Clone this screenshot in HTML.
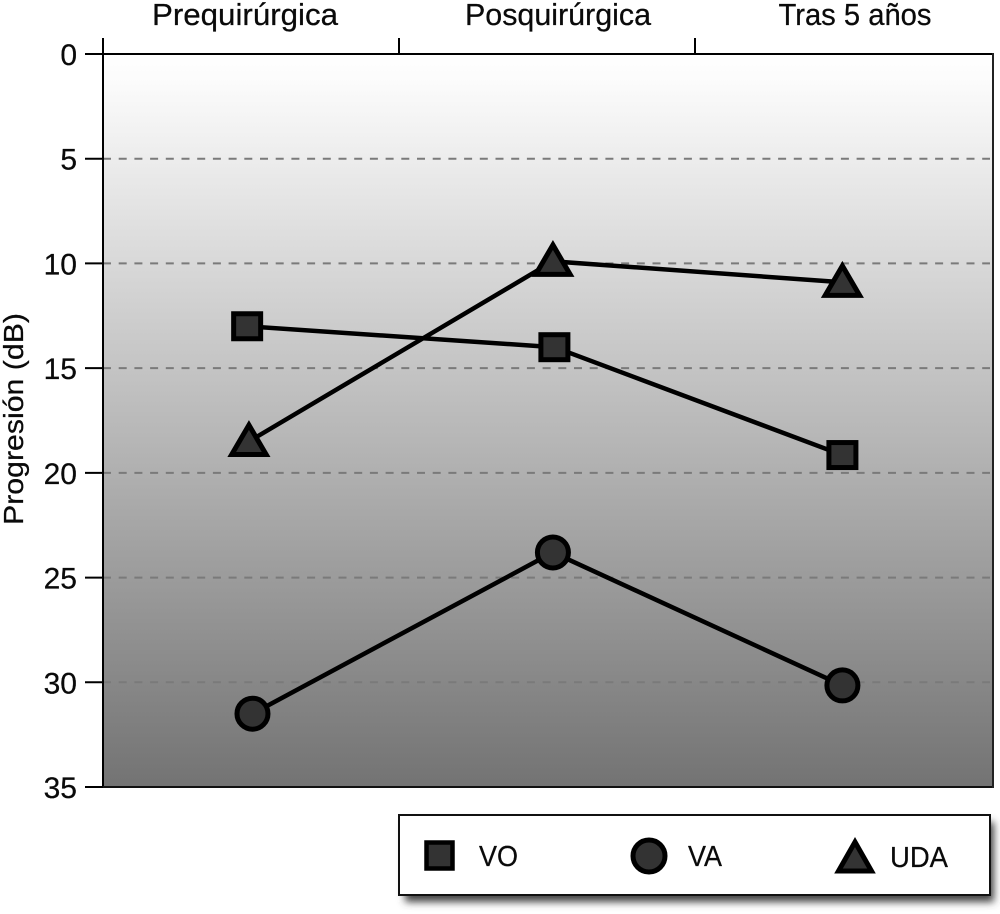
<!DOCTYPE html>
<html lang="es">
<head>
<meta charset="utf-8">
<title>Progresión (dB)</title>
<style>
html,body{margin:0;padding:0;background:#fff;width:1000px;height:914px;overflow:hidden}
svg{display:block}
text{font-family:"Liberation Sans",sans-serif;fill:#0a0a0a;stroke:#0a0a0a;stroke-width:0.25px}
</style>
</head>
<body>
<svg id="chart" xmlns="http://www.w3.org/2000/svg" width="1000" height="914" viewBox="0 0 1000 914">
  <defs>
    <linearGradient id="plotGradient" x1="0" y1="0" x2="0" y2="1">
      <stop offset="0" stop-color="#ffffff"/>
      <stop offset="0.04" stop-color="#fbfbfb"/>
      <stop offset="1" stop-color="#737373"/>
    </linearGradient>
    <filter id="legendShadow" x="-5%" y="-20%" width="110%" height="150%">
      <feGaussianBlur stdDeviation="4"/>
    </filter>
  </defs>
  <rect x="103" y="54" width="890" height="733" fill="url(#plotGradient)"/>
  <g id="grid"></g>
  <g id="axes"></g>
  <line x1="993" y1="53" x2="993" y2="788" stroke="#222" stroke-width="2"/>
  <text transform="translate(23,525) rotate(-90)" font-size="28" textLength="212" lengthAdjust="spacingAndGlyphs">Progresión (dB)</text>
  <g id="series"></g>
  <g>
    <rect x="405" y="822" width="589" height="80" fill="#444" filter="url(#legendShadow)"/>
    <rect x="399" y="815" width="591" height="80" fill="#fff" stroke="#111" stroke-width="2"/>
    <g>
      <rect x="426.5" y="842.5" width="26" height="26" fill="#333" stroke="#000" stroke-width="4.5"/>
      <text x="479" y="866" font-size="29" textLength="39" lengthAdjust="spacingAndGlyphs">VO</text>
    </g>
    <g>
      <circle cx="649" cy="856" r="16" fill="#333" stroke="#000" stroke-width="5"/>
      <text x="688" y="866" font-size="29" textLength="34" lengthAdjust="spacingAndGlyphs">VA</text>
    </g>
    <g>
      <path d="M855 842 L871.5 871 L838.5 871 Z" fill="#333" stroke="#000" stroke-width="5"/>
      <text x="890" y="867" font-size="29" textLength="58" lengthAdjust="spacingAndGlyphs">UDA</text>
    </g>
  </g>
</svg>
<script>
const categories = ["Prequirúrgica", "Posquirúrgica", "Tras 5 años"];
const categoryLabelWidths = [186, 186, 153];
const yTicks = [0, 5, 10, 15, 20, 25, 30, 35];
const voValues = [13, 14, 19.15];
const vaValues = [31.5, 23.8, 30.15];
const udaValues = [18.5, 9.9, 10.9];
const voCategoryPos = [0.487, 1.525, 2.498];
const vaCategoryPos = [0.505, 1.52, 2.498];
const udaCategoryPos = [0.493, 1.52, 2.498];

const NS = "http://www.w3.org/2000/svg";
const plotLeft = 103, plotRight = 993, plotTop = 54, plotBottom = 787;
const bandWidth = 296;
const yMax = 35;

function xScale(v) { return plotLeft + v * bandWidth; }
function yScale(v) { return plotTop + (v / yMax) * (plotBottom - plotTop); }

function make(tag, attrs, parent) {
  const el = document.createElementNS(NS, tag);
  for (const k in attrs) el.setAttribute(k, attrs[k]);
  parent.appendChild(el);
  return el;
}

const grid = document.getElementById("grid");
const axes = document.getElementById("axes");
const seriesGroup = document.getElementById("series");

yTicks.forEach(function (t) {
  const y = yScale(t);
  if (t !== 0 && t !== yMax) {
    const g = make("line", { x1: plotLeft, x2: 990, y1: y, y2: y, stroke: "#7a7a7a", "stroke-width": 2, "stroke-dasharray": "8 7.7" }, grid);
    
    
  }
  const tick = make("line", { x1: 85, x2: plotLeft, y1: y, y2: y, stroke: "#000", "stroke-width": 2 }, axes);
  
  
  const label = make("text", { x: 77, y: y + 11, "text-anchor": "end", "font-size": 30 }, axes);
  
  
  label.textContent = t;
});

const yAxis = make("line", { x1: plotLeft, x2: plotLeft, y1: 38, y2: plotBottom, stroke: "#000", "stroke-width": 2 }, axes);


const xAxis = make("line", { x1: plotLeft, x2: plotRight, y1: plotTop, y2: plotTop, stroke: "#000", "stroke-width": 2 }, axes);


const bottomLine = make("line", { x1: plotLeft, x2: plotRight, y1: plotBottom, y2: plotBottom, stroke: "#111", "stroke-width": 2 }, axes);



categories.forEach(function (c, i) {
  const x = xScale(i);
  const tick = make("line", { x1: x, x2: x, y1: 38, y2: plotTop, stroke: "#000", "stroke-width": 2 }, axes);
  
  
  const w = categoryLabelWidths[i];
  const cx = [245, 558, 855][i];
  const label = make("text", { x: cx - w / 2, y: 25, "font-size": 31, textLength: w, lengthAdjust: "spacingAndGlyphs" }, axes);
  
  
  label.textContent = c;
});

function drawLine(values, positions, group) {
  const pts = values.map(function (v, i) { return xScale(positions[i]) + "," + yScale(v); }).join(" ");
  const line = make("polyline", { points: pts, fill: "none", stroke: "#000", "stroke-width": 4.5 }, group);
  
  
}

const voGroup = make("g", {}, seriesGroup);


drawLine(voValues, voCategoryPos, voGroup);
voValues.forEach(function (v, i) {
  const x = xScale(voCategoryPos[i]), y = yScale(v);
  const m = make("rect", { x: x - 13.5, y: y - 12.5, width: 27, height: 25, fill: "#333", stroke: "#000", "stroke-width": 5 }, voGroup);
  
  
});

const vaGroup = make("g", {}, seriesGroup);


drawLine(vaValues, vaCategoryPos, vaGroup);
vaValues.forEach(function (v, i) {
  const x = xScale(vaCategoryPos[i]), y = yScale(v);
  const m = make("circle", { cx: x, cy: y, r: 15.5, fill: "#333", stroke: "#000", "stroke-width": 5 }, vaGroup);
  
  
});

const udaGroup = make("g", {}, seriesGroup);


drawLine(udaValues, udaCategoryPos, udaGroup);
udaValues.forEach(function (v, i) {
  const x = xScale(udaCategoryPos[i]), y = yScale(v);
  const d = "M" + x + " " + (y - 16.4) + " L" + (x + 17.2) + " " + (y + 13.1) + " L" + (x - 17.2) + " " + (y + 13.1) + " Z";
  const m = make("path", { d: d, fill: "#333", stroke: "#000", "stroke-width": 5 }, udaGroup);
  
  
});
</script>
</body>
</html>
